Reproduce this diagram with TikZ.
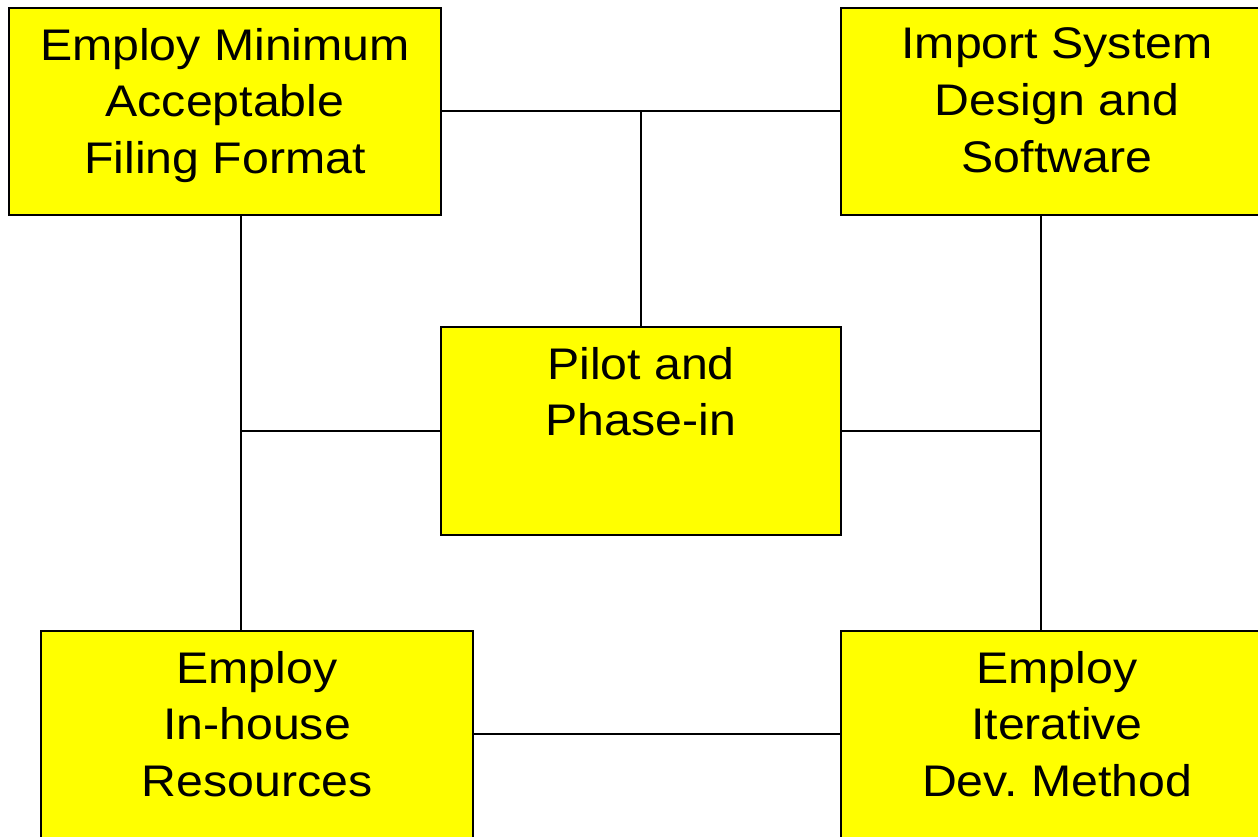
\documentclass[tikz,border=0pt]{standalone}
\usepackage{fontspec}
\setmainfont{Liberation Sans}[FakeStretch=1.09]
\definecolor{boxyellow}{RGB}{255,255,0}
\frenchspacing
\begin{document}
\begin{tikzpicture}[x=0.75pt,y=-0.75pt,
  box/.style={draw=black,fill=boxyellow,line width=1.5pt,rectangle,inner sep=0pt,
    minimum width=324pt,minimum height=155.25pt},
  cbox/.style={box,minimum width=300pt,minimum height=156pt},
  txt/.style={anchor=north,inner sep=0pt,align=center,
    font=\fontsize{33.2pt}{42.5pt}\selectfont},
  conn/.style={draw=black,line width=1.5pt}]
\clip (0,0) rectangle (1258,837);
\fill[white] (0,0) rectangle (1258,837);
% boxes
\node[box] (A) at (225,111.5) {};
\node[box] (B) at (1057,111.5) {};
\node[cbox] (C) at (641,431) {};
\node[box] (D) at (257,734.5) {};
\node[box] (E) at (1057,734.5) {};
% junction coordinates
\coordinate (ab) at (641,111.5);
\coordinate (al) at (241,431);
\coordinate (br) at (1041,431);
% connectors
\draw[conn] (A.east) -- (B.west);
\draw[conn] (ab) -- (C.north);
\draw[conn] (A.south -| al) -- (D.north -| al);
\draw[conn] (al) -- (C.west);
\draw[conn] (B.south -| br) -- (E.north -| br);
\draw[conn] (C.east) -- (br);
\draw[conn] (D.east) -- (E.west);
% texts
\node[txt] (tA) at ([yshift=-15.5pt]A.north) {Employ Minimum\\Acceptable\\Filing Format};
\node[txt] (tB) at ([yshift=-15.5pt]B.north) {Import System\\Design and\\Software};
\node[txt] (tC) at ([yshift=-15.5pt]C.north) {Pilot and\\Phase-in};
\node[txt] (tD) at ([yshift=-15.5pt]D.north) {Employ\\In-house\\Resources};
\node[txt] (tE) at ([yshift=-15.5pt]E.north) {Employ\\Iterative\\Dev. Method};
\end{tikzpicture}
\end{document}
